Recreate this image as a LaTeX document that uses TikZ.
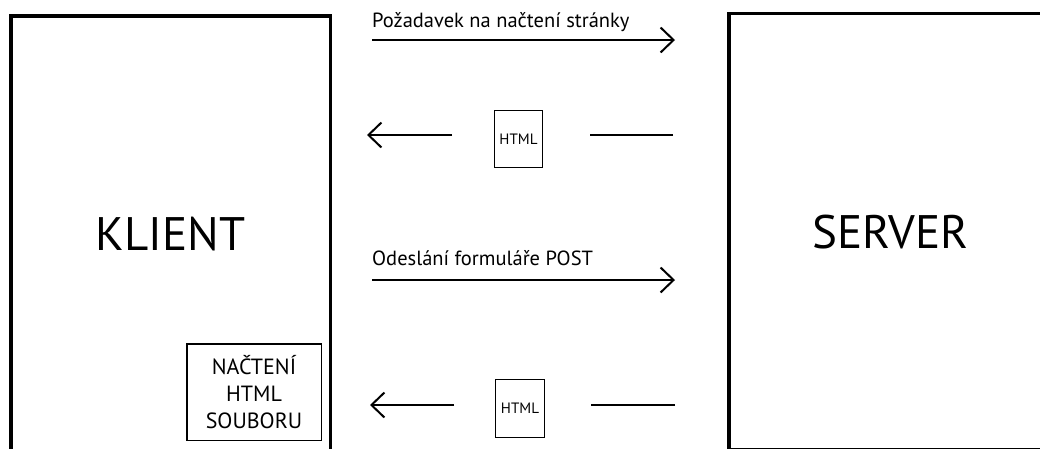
\documentclass[tikz,border=0pt]{standalone}
\usepackage{fontspec}
\setmainfont{PT Sans}
\usetikzlibrary{arrows.meta}
\begin{document}
\begin{tikzpicture}[x=1pt,y=-1pt,
  bigbox/.style={draw, line width=3.5pt, inner sep=0pt, font=\fontsize{47}{52}\selectfont},
  subbox/.style={draw, line width=1.5pt, inner sep=0pt, align=center, font=\fontsize{22}{27}\selectfont},
  docbox/.style={draw, line width=1.5pt, inner sep=0pt, font=\fontsize{15}{18}\selectfont},
  msg/.style={anchor=base west, inner sep=0pt, font=\fontsize{20.5}{24}\selectfont},
  flow/.style={line width=2pt, -{Straight Barb[length=13pt,width=25pt,line width=2pt]}},
  plain/.style={line width=2pt}]
\useasboundingbox (0,0) rectangle (1040,448);

% the two parties
\node[bigbox, minimum width=319.5pt, minimum height=436pt] (klient) at (170.5,234) {KLIENT};
\node[bigbox, minimum width=323pt, minimum height=436pt] (server) at (890.4,231.7) {SERVER};

% local step inside the client
\node[subbox, minimum width=134.5pt, minimum height=96.5pt] (load) at (254,392) {NAČTENÍ\\HTML\\SOUBORU};

% returned documents
\node[docbox, minimum width=48pt, minimum height=57pt] (html1) at (518.5,139) {HTML};
\node[docbox, minimum width=49pt, minimum height=58pt] (html2) at (520,408.5) {HTML};

% message labels
\node[msg] (m1) at (372,27) {Požadavek na načtení stránky};
\node[msg] (m2) at (372,265) {Odeslání formuláře POST};

% end points of the message lines
\coordinate (a1s) at (372,40);  \coordinate (a1e) at (675,40);
\coordinate (a2s) at (673,135); \coordinate (a2m) at (590,135);
\coordinate (a2n) at (452,135); \coordinate (a2e) at (367,135);
\coordinate (a3s) at (372,280); \coordinate (a3e) at (675,280);
\coordinate (a4s) at (675,405); \coordinate (a4m) at (591,405);
\coordinate (a4n) at (454,405); \coordinate (a4e) at (370,405);

% requests
\draw[flow] (a1s) -- (a1e);
\draw[flow] (a3s) -- (a3e);

% responses, interrupted by the document
\draw[plain] (a2s) -- (a2m);
\draw[flow] (a2n) -- (a2e);
\draw[plain] (a4s) -- (a4m);
\draw[flow] (a4n) -- (a4e);
\end{tikzpicture}
\end{document}
